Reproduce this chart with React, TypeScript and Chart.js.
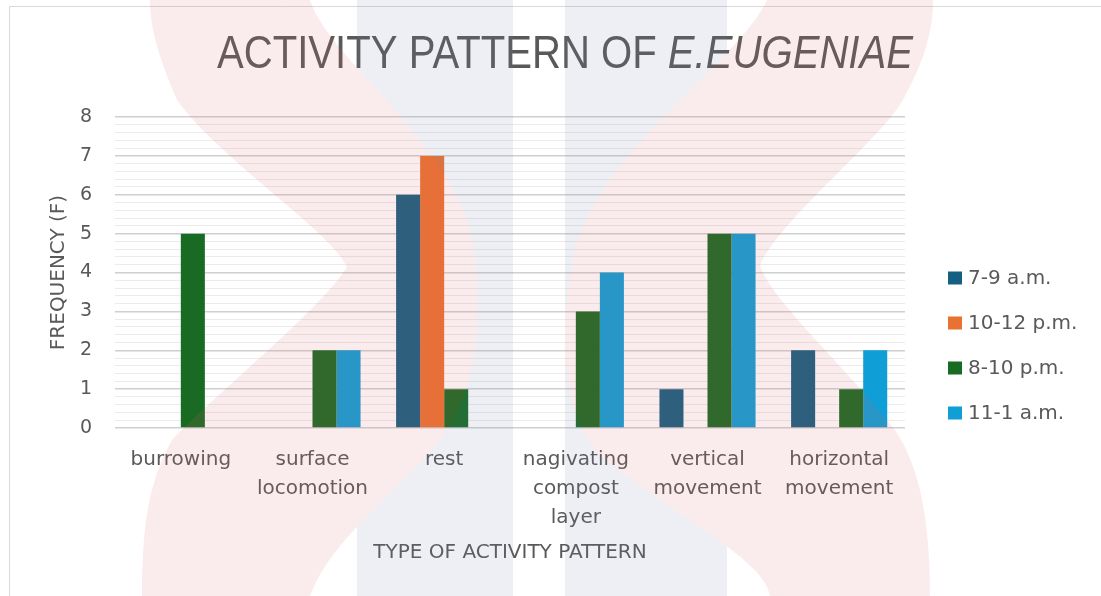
import React, { useEffect, useRef } from 'react';
import { Chart, registerables } from 'chart.js';

Chart.register(...registerables);

// ---------- data ----------
const categories: string[][] = [
  ['burrowing'],
  ['surface', 'locomotion'],
  ['rest'],
  ['nagivating', 'compost', 'layer'],
  ['vertical', 'movement'],
  ['horizontal', 'movement'],
];
const seriesNames = ['7-9 a.m.', '10-12 p.m.', '8-10 p.m.', '11-1 a.m.'];
const seriesColors = ['#156082', '#E97132', '#196B24', '#0F9ED5'];
const morning7to9 = [0, 0, 6, 0, 1, 2];
const noon10to12 = [0, 0, 7, 0, 0, 0];
const evening8to10 = [5, 2, 1, 3, 5, 1];
const night11to1 = [0, 2, 0, 4, 5, 2];
const yMin = 0;
const yMax = 8;
const yMinorStep = 0.2;
const titleMain = 'ACTIVITY PATTERN OF ';
const titleItalic = 'E.EUGENIAE';
const yAxisTitle = 'FREQUENCY (F)';
const xAxisTitle = 'TYPE OF ACTIVITY PATTERN';

const seriesValues = [morning7to9, noon10to12, evening8to10, night11to1];

const TEXT = '#595959';
const FONT = "'DejaVu Sans', 'Liberation Sans', sans-serif";
const TITLE_FONT = "'Liberation Sans Narrow', 'Liberation Sans', sans-serif";

const isMajor = (v: number) => Math.abs(v - Math.round(v)) < 1e-6;

let watermarkCanvas: HTMLCanvasElement | null = null;
function getWatermark(w: number, h: number) {
  if (watermarkCanvas) return watermarkCanvas;
  const c = document.createElement('canvas');
  c.width = w;
  c.height = h;
  const g = c.getContext('2d')!;
  g.fillStyle = 'rgb(113,130,172)';
  g.fillRect(357, 0, 156, h);
  g.fillRect(565, 0, 162, h);
  g.fillStyle = 'rgb(222,97,105)';
  // left ribbon
  g.beginPath();
  g.moveTo(150, 0);
  g.bezierCurveTo(150, 30, 160, 60, 177, 100);
  g.bezierCurveTo(220, 160, 330, 230, 347, 267);
  g.bezierCurveTo(320, 310, 220, 390, 172, 440);
  g.bezierCurveTo(150, 480, 142, 520, 142, h);
  g.lineTo(310, h);
  g.bezierCurveTo(330, 540, 400, 490, 440, 440);
  g.bezierCurveTo(480, 390, 485, 300, 470, 230);
  g.bezierCurveTo(440, 130, 330, 60, 310, 0);
  g.closePath();
  g.fill();
  // right ribbon
  g.beginPath();
  g.moveTo(767, 0);
  g.bezierCurveTo(740, 60, 600, 150, 575, 250);
  g.bezierCurveTo(560, 320, 558, 410, 600, 455);
  g.bezierCurveTo(680, 520, 765, 560, 770, h);
  g.lineTo(930, h);
  g.bezierCurveTo(930, 520, 920, 470, 897, 433);
  g.bezierCurveTo(850, 370, 770, 300, 760, 265);
  g.bezierCurveTo(780, 220, 880, 140, 903, 100);
  g.bezierCurveTo(925, 60, 933, 30, 933, 0);
  g.closePath();
  g.fill();
  watermarkCanvas = c;
  return c;
}

const decorPlugin = {
  id: 'decor',
  beforeDraw(chart: any) {
    const ctx = chart.ctx as CanvasRenderingContext2D;
    ctx.save();
    ctx.fillStyle = '#ffffff';
    ctx.fillRect(0, 0, chart.width, chart.height);
    ctx.strokeStyle = '#d9d9d9';
    ctx.lineWidth = 1;
    ctx.beginPath();
    ctx.moveTo(9.5, chart.height);
    ctx.lineTo(9.5, 6.5);
    ctx.lineTo(chart.width, 6.5);
    ctx.stroke();
    ctx.restore();
  },
  afterDraw(chart: any) {
    const ctx = chart.ctx as CanvasRenderingContext2D;
    // ---- title (mixed upright / italic) ----
    ctx.save();
    const size = 47;
    ctx.font = `normal 400 ${size}px ${TITLE_FONT}`;
    const w1 = ctx.measureText(titleMain).width;
    ctx.font = `italic 400 ${size}px ${TITLE_FONT}`;
    const w2 = ctx.measureText(titleItalic).width;
    const targetW = 696;
    const s = targetW / (w1 + w2);
    ctx.translate(217, 68);
    ctx.scale(s, 1);
    ctx.fillStyle = TEXT;
    ctx.textAlign = 'left';
    ctx.textBaseline = 'alphabetic';
    ctx.font = `normal 400 ${size}px ${TITLE_FONT}`;
    ctx.fillText(titleMain, 0, 0);
    ctx.font = `italic 400 ${size}px ${TITLE_FONT}`;
    ctx.fillText(titleItalic, w1, 0);
    ctx.restore();

    // ---- legend ----
    ctx.save();
    ctx.font = `normal 400 20px ${FONT}`;
    ctx.textAlign = 'left';
    ctx.textBaseline = 'middle';
    chart.data.datasets.forEach((ds: any, i: number) => {
      const cy = 278 + i * 45;
      ctx.fillStyle = ds.backgroundColor;
      ctx.fillRect(948, cy - 6.5, 14, 13);
      ctx.fillStyle = TEXT;
      ctx.fillText(ds.label, 968, cy + 1);
    });
    ctx.restore();

    // ---- faint watermark overlay ----
    ctx.save();
    ctx.globalAlpha = 0.12;
    ctx.drawImage(getWatermark(chart.width, chart.height), 0, 0);
    ctx.restore();
  },
};

export default function App() {
  const ref = useRef<HTMLCanvasElement>(null);

  useEffect(() => {
    if (!ref.current) return;
    const chart = new Chart(ref.current, {
      type: 'bar',
      data: {
        labels: categories,
        datasets: seriesNames.map((name, i) => ({
          label: name,
          data: seriesValues[i],
          backgroundColor: seriesColors[i],
          borderWidth: 0,
          barPercentage: 1,
          categoryPercentage: 0.73,
        })),
      },
      options: {
        responsive: false,
        animation: false,
        devicePixelRatio: 1,
        layout: { padding: { top: 117, right: 196, bottom: 0, left: 0 } },
        plugins: {
          legend: { display: false },
          title: { display: false },
          tooltip: { enabled: false },
        },
        scales: {
          x: {
            offset: true,
            grid: { display: false },
            border: { display: false },
            ticks: {
              autoSkip: false,
              maxRotation: 0,
              minRotation: 0,
              padding: 9,
              color: TEXT,
              font: { family: FONT, size: 20, lineHeight: 1.45 },
            },
            title: {
              display: true,
              text: xAxisTitle,
              color: TEXT,
              font: { family: FONT, size: 20, lineHeight: 1.2 },
              padding: { top: 0, bottom: 31 },
            },
            afterFit: (scale: any) => {
              scale.height = 168;
            },
          },
          y: {
            min: yMin,
            max: yMax,
            grid: {
              drawTicks: false,
              color: (c: any) => (isMajor(c.tick.value) ? '#cfcfcf' : '#ebebeb'),
              lineWidth: (c: any) => (isMajor(c.tick.value) ? 1.5 : 1),
            },
            border: { display: false },
            ticks: {
              stepSize: yMinorStep,
              autoSkip: false,
              padding: 23,
              color: TEXT,
              font: { family: FONT, size: 19 },
              callback: (v: any) => (isMajor(Number(v)) ? String(Math.round(Number(v))) : ''),
            },
            title: {
              display: true,
              text: yAxisTitle,
              color: TEXT,
              font: { family: FONT, size: 20, lineHeight: 1.2 },
              padding: { top: 47, bottom: 0 },
            },
            afterFit: (scale: any) => {
              scale.width = 115;
            },
          },
        },
      },
      plugins: [decorPlugin],
    } as any);
    return () => chart.destroy();
  }, []);

  return (
    <div style={{ position: 'fixed', left: 0, top: 0, width: 1101, height: 596 }}>
      <canvas ref={ref} width={1101} height={596} style={{ display: 'block' }} />
    </div>
  );
}
